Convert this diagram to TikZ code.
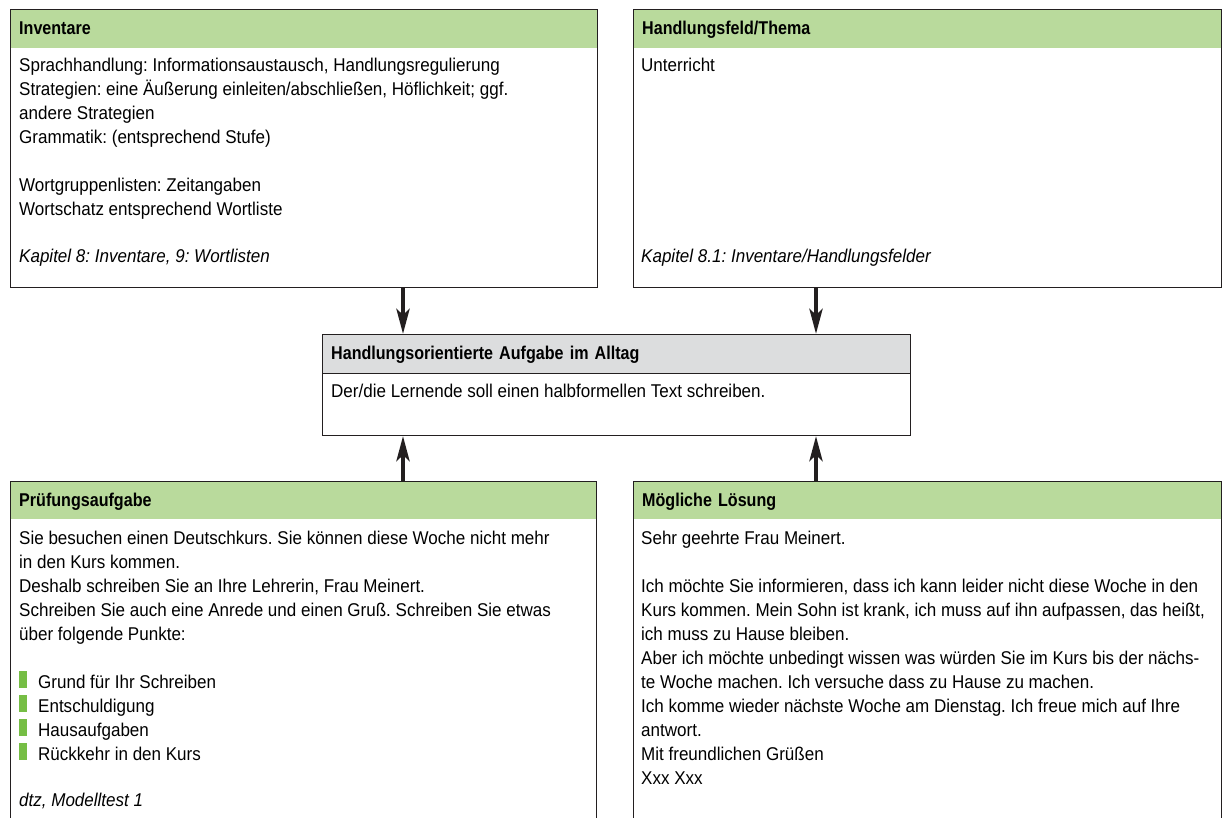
\documentclass[tikz,border=0pt]{standalone}
\usepackage{fontspec}
\setmainfont{Liberation Sans}[FakeStretch=0.92,BoldFeatures={FakeStretch=0.87}]
\usetikzlibrary{arrows.meta}
\frenchspacing
\definecolor{kopfgruen}{HTML}{B9DA9C}
\definecolor{kopfgrau}{HTML}{DCDDDE}
\definecolor{punktgruen}{HTML}{76BE45}
\definecolor{rahmen}{HTML}{231F20}
\newcommand{\grund}{\fontsize{18.5}{24}\selectfont}
\newcommand{\punkt}{\textcolor{punktgruen}{\rule{7.5pt}{17pt}}\hspace{11.5pt}}
\tikzset{
	kasten/.style={draw=rahmen,line width=1pt,anchor=north west,inner sep=0pt},
	kopf/.style={fill=kopfgruen,anchor=north west,minimum height=38pt,text width=#1,inner xsep=9pt,inner ysep=0pt,text height=15pt,text depth=3pt,font=\grund\bfseries,align=left},
	inhalt/.style={anchor=north west,inner sep=0pt,align=left},
	quelle/.style={anchor=base west,inner sep=0pt,font=\grund\itshape},
	pfeil/.style={line width=4.5pt,draw=rahmen,-{Stealth[length=25pt,width=13pt,inset=6pt]}}
}
\begin{document}
\begin{tikzpicture}[x=1pt,y=-1pt,font=\grund]
		\useasboundingbox (0,0) rectangle (1224,818);
		\def\ol{57.5}\def\ul{530.5}
		% oben
		\node[kopf=569pt] (invk) at (10,9.5) {Inventare};
		\node[kasten,minimum width=587pt,minimum height=277.5pt] (inv) at (10,9.5) {};
		\node[inhalt] (invt) at (19,\ol) {Sprachhandlung: Informationsaustausch, Handlungsregulierung\\
			Strategien: eine Äußerung einleiten/abschließen, Höflichkeit; ggf.\\
			andere Strategien\\
			Grammatik: (entsprechend Stufe)\\[24pt]
			Wortgruppenlisten: Zeitangaben\\
			Wortschatz entsprechend Wortliste};
		\node[quelle] (invq) at (19,263) {Kapitel 8: Inventare, 9: Wortlisten};
		\node[kopf=570pt] (themak) at (633,9.5) {Handlungsfeld/Thema};
		\node[kasten,minimum width=588pt,minimum height=277.5pt] (thema) at (633,9.5) {};
		\node[inhalt] (themat) at (641,\ol) {Unterricht};
		\node[quelle] (themaq) at (641,263) {Kapitel 8.1: Inventare/Handlungsfelder};
		% mitte
		\node[kopf=570pt,fill=kopfgrau,minimum height=39pt] (aufgk) at (322,334) {Handlungsorientierte Aufgabe im Alltag};
		\draw[rahmen,line width=1pt] (aufgk.south west) -- (aufgk.south east);
		\node[kasten,minimum width=588pt,minimum height=101pt] (aufg) at (322,334) {};
		\node[inhalt] (aufgt) at (331,383.5) {Der/die Lernende soll einen halbformellen Text schreiben.};
		% unten
		\node[kopf=568pt] (pruefk) at (10,481) {Prüfungsaufgabe};
		\node[kasten,minimum width=586pt,minimum height=360pt] (pruef) at (10,481) {};
		\node[inhalt] (prueft) at (19,\ul) {Sie besuchen einen Deutschkurs. Sie können diese Woche nicht mehr\\
			in den Kurs kommen.\\
			Deshalb schreiben Sie an Ihre Lehrerin, Frau Meinert.\\
			Schreiben Sie auch eine Anrede und einen Gruß. Schreiben Sie etwas\\
			über folgende Punkte:\\[24pt]
			\punkt Grund für Ihr Schreiben\\
			\punkt Entschuldigung\\
			\punkt Hausaufgaben\\
			\punkt Rückkehr in den Kurs};
		\node[quelle] (pruefq) at (19,806) {dtz, Modelltest 1};
		\node[kopf=570pt] (loesk) at (633,481) {Mögliche Lösung};
		\node[kasten,minimum width=588pt,minimum height=360pt] (loes) at (633,481) {};
		\node[inhalt] (loest) at (641,\ul) {Sehr geehrte Frau Meinert.\\[24pt]
			Ich möchte Sie informieren, dass ich kann leider nicht diese Woche in den\\
			Kurs kommen. Mein Sohn ist krank, ich muss auf ihn aufpassen, das heißt,\\
			ich muss zu Hause bleiben.\\
			Aber ich möchte unbedingt wissen was würden Sie im Kurs bis der nächs-\\
			te Woche machen. Ich versuche dass zu Hause zu machen.\\
			Ich komme wieder nächste Woche am Dienstag. Ich freue mich auf Ihre\\
			antwort.\\
			Mit freundlichen Grüßen\\
			Xxx Xxx};
		% pfeile
		\coordinate (pl) at (403,0);
		\coordinate (pr) at (816,0);
		\draw[pfeil] (inv.south -| pl) -- (aufg.north -| pl);
		\draw[pfeil] (thema.south -| pr) -- (aufg.north -| pr);
		\draw[pfeil] (pruef.north -| pl) -- (aufg.south -| pl);
		\draw[pfeil] (loes.north -| pr) -- (aufg.south -| pr);
\end{tikzpicture}
\end{document}
